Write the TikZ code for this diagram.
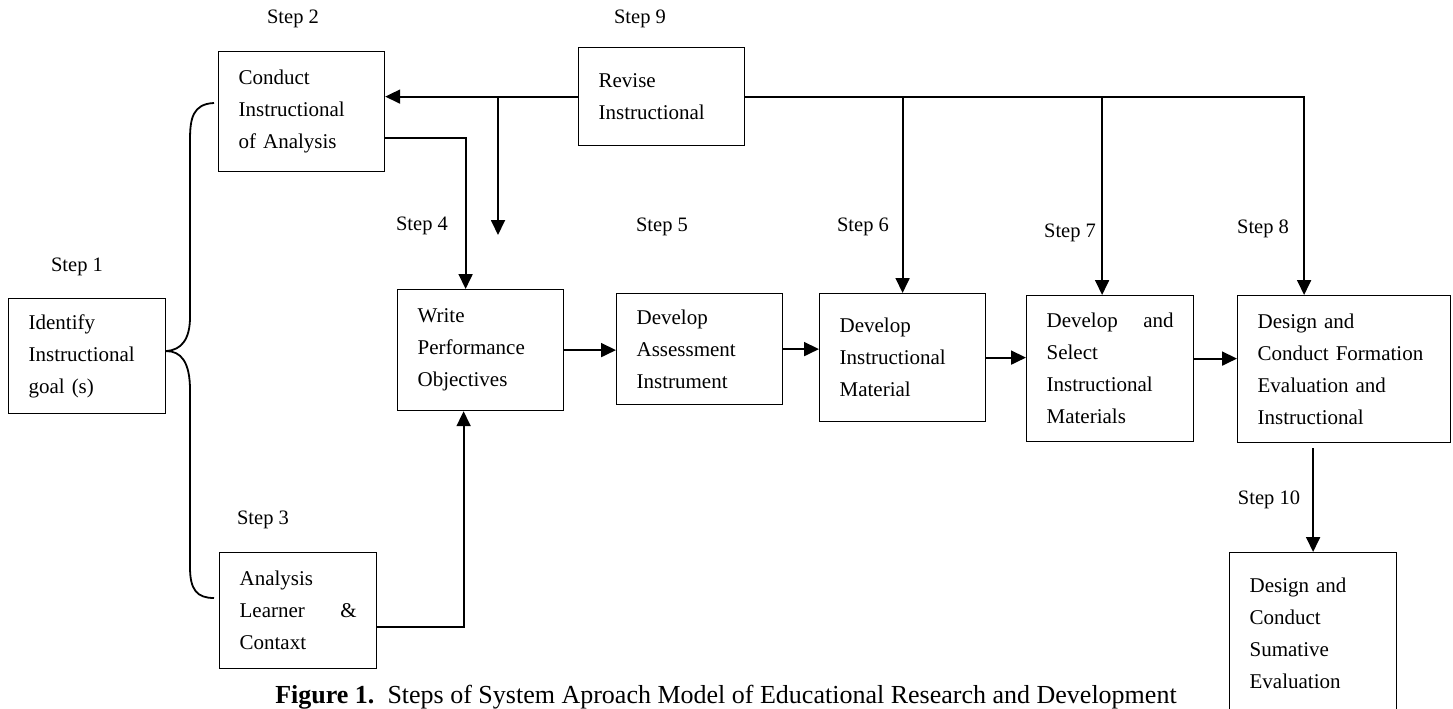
\documentclass[tikz,border=0pt]{standalone}
\usepackage{fontspec}
\setmainfont{Liberation Serif}
\usetikzlibrary{arrows.meta}

\begin{document}
\begin{tikzpicture}[x=1pt,y=-1pt,
    stepbox/.style={draw, line width=1.2pt, anchor=north west, align=left,
        inner xsep=20pt, inner ysep=0pt, font=\fontsize{21}{32}\selectfont},
    steplab/.style={font=\fontsize{20.5}{24}\selectfont},
    flow/.style={line width=1.8pt, -{Triangle[length=15pt,width=14pt]}}]

    \useasboundingbox (0,0) rectangle (1453,709);
    \clip (0,0) rectangle (1453,709);

    \node[stepbox, text width=117pt, minimum height=115pt] (s1) at (8,298) {Identify\\Instructional\\goal (s)};
    \node[stepbox, text width=126pt, minimum height=120pt] (s2) at (218,51) {Conduct\\Instructional\\of Analysis};
    \node[stepbox, text width=117pt, minimum height=116pt] (s3) at (219,552) {Analysis\\Learner\hfill\&\\Contaxt};
    \node[stepbox, text width=126pt, minimum height=121pt] (s4) at (397,289) {Write\\Performance\\Objectives};
    \node[stepbox, text width=126pt, minimum height=111pt] (s5) at (616,293) {Develop\\Assessment\\Instrument};
    \node[stepbox, text width=126pt, minimum height=128pt] (s6) at (819,293) {Develop\\Instructional\\Material};
    \node[stepbox, text width=127pt, minimum height=146pt] (s7) at (1026,295) {Develop\hfill and\\Select\\Instructional\\Materials};
    \node[stepbox, text width=173pt, minimum height=147pt] (s8) at (1237,295) {Design and\\Conduct Formation\\Evaluation and\\Instructional};
    \node[stepbox, text width=126pt, minimum height=98pt] (s9) at (578,47) {Revise\\Instructional};
    \node[stepbox, text width=127pt, minimum height=162pt] (s10) at (1229,552) {Design and\\Conduct\\Sumative\\Evaluation};

    \node[steplab] (l1) at (77,267) {Step 1};
    \node[steplab] (l2) at (293,19) {Step 2};
    \node[steplab] (l3) at (263,520) {Step 3};
    \node[steplab] (l4) at (422,226) {Step 4};
    \node[steplab] (l5) at (662,227) {Step 5};
    \node[steplab] (l6) at (863,227) {Step 6};
    \node[steplab] (l7) at (1070,233) {Step 7};
    \node[steplab] (l8) at (1263,229) {Step 8};
    \node[steplab] (l9) at (640,19) {Step 9};
    \node[steplab] (l10) at (1269,500) {Step 10};

    \coordinate (bt) at (214,103);
    \coordinate (bb) at (214,598);
    \coordinate (tip) at ([yshift=5pt]s1.east);
    \coordinate (rail) at (0,97);
    \coordinate (d1) at (498,98);
    \coordinate (d2) at (498,235);
    \coordinate (s7in) at ([xshift=-8pt]s7.north);
    \coordinate (s8in) at ([xshift=-40pt]s8.north);
    \coordinate (s10in) at ([yshift=-5pt]s8.south -| s10.north);

    % brace from step 1 to steps 2 and 3
    \draw[line width=1.8pt] (bt) .. controls (193,104) and (190,118) .. (190,140) -- (190,317)
        .. controls (190,340) and (181,350) .. (tip);
    \draw[line width=1.8pt] (tip) .. controls (181,351) and (190,362) .. (190,390) -- (190,567)
        .. controls (190,590) and (197,598) .. (bb);

    \draw[flow] (s9.west) -- (s9.west -| s2.east);
    \draw[flow] ([yshift=-26pt]s2.east) -| ([xshift=-15pt]s4.north);
    \draw[flow] (d1) -- (d2);
    \draw[flow] ([yshift=-16pt]s3.east) -| ([xshift=-17pt]s4.south);

    \draw[flow] (s4.east) -- (s4.east -| s5.west);
    \draw[flow] (s5.east) -- (s5.east -| s6.west);
    \draw[flow] (s6.east) -- (s6.east -| s7.west);
    \draw[flow] ([yshift=10pt]s7.east) -- ([yshift=10pt]s7.east -| s8.west);

    \draw[flow] (s9.east) -| (s8in);
    \draw[flow] (s6.north |- rail) -- (s6.north);
    \draw[flow] (s7in |- rail) -- (s7in);
    \draw[flow] (s10in) -- (s10.north);

    \node[font=\fontsize{26}{30}\selectfont, anchor=base] (cap) at (726,703)
        {\textbf{Figure 1.}\ \ Steps of System Aproach Model of Educational Research and Development};
\end{tikzpicture}
\end{document}
